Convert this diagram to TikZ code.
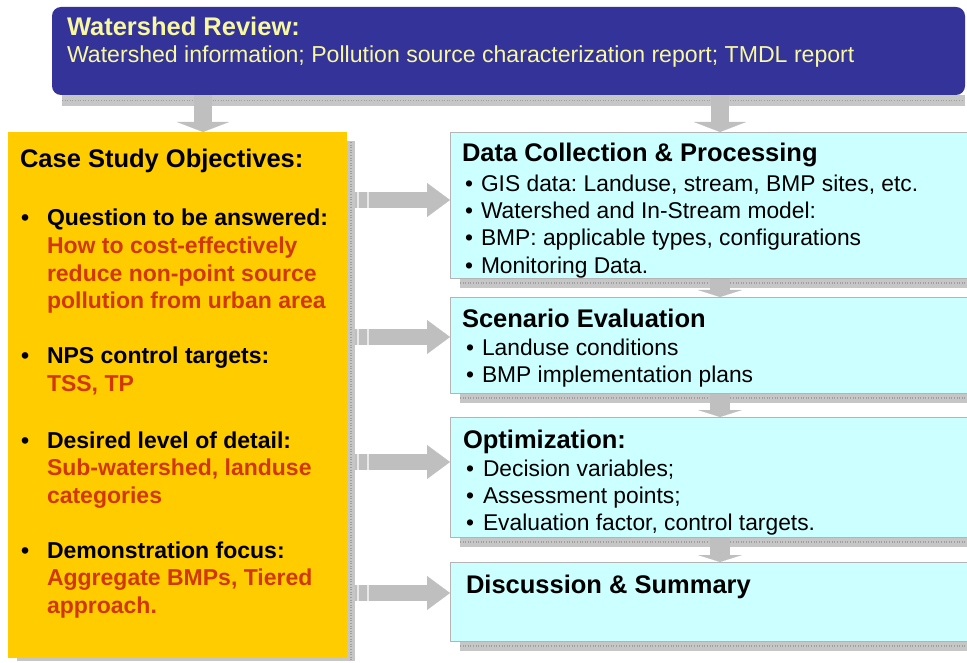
\documentclass[tikz,border=0pt]{standalone}
\usepackage{fontspec}
\setmainfont{Liberation Sans}
\usetikzlibrary{arrows.meta}
\definecolor{bannerblue}{HTML}{333399}
\definecolor{bannertext}{HTML}{F8F8A0}
\definecolor{objyellow}{HTML}{FFCC00}
\definecolor{objred}{HTML}{D03800}
\definecolor{stepcyan}{HTML}{CCFFFF}
\definecolor{arrowgray}{HTML}{BFBFBF}
\definecolor{shadowgray}{HTML}{C6C6C6}
\definecolor{edgegray}{HTML}{B4B4B4}
\pgfdeclarelayer{bg}
\pgfsetlayers{bg,main}
\frenchspacing
\begin{document}
\begin{tikzpicture}[x=1pt,y=-1pt,
  box/.style={rectangle, inner sep=0pt, outer sep=0pt, anchor=north west},
  stepbox/.style={box, fill=stepcyan, draw=edgegray, line width=0.8pt, minimum width=518pt},
  shade/.style={fill=shadowgray},
  shadetex/.style={draw=gray!75, line width=1.2pt, dash pattern=on 1pt off 1.6pt},
  txt/.style={anchor=base west, inner sep=0pt, outer sep=0pt},
  bigbold/.style={txt, font=\fontsize{25.5}{30}\selectfont\bfseries},
  bannersub/.style={txt, text=bannertext, font=\fontsize{23.1}{28}\selectfont},
  objitem/.style={txt, font=\fontsize{23}{27}\selectfont\bfseries},
  objnote/.style={objitem, text=objred},
  stepitem/.style={txt, font=\fontsize{22.8}{27}\selectfont},
  downarrow/.style={draw=arrowgray, line width=18pt,
    -{Triangle[width=52pt, length=10pt, line width=0.1pt, fill=arrowgray]}},
  steparrow/.style={draw=arrowgray, line width=20pt,
    -{Triangle[width=44pt, length=7pt, line width=0.1pt, fill=arrowgray]}},
  sidearrow/.style={draw=arrowgray, line width=16pt,
    -{Triangle[width=34pt, length=23pt, line width=0.1pt, fill=arrowgray]}},
  tailgap/.style={draw=white!65!arrowgray, line width=2pt}
]
\useasboundingbox (0,0) rectangle (967,663);

% ---- boxes ----
\node[box, fill=bannerblue, rounded corners=9pt,
      minimum width=913pt, minimum height=88pt] (banner) at (52,7) {};
\node[box, fill=objyellow, minimum width=339pt, minimum height=526pt] (objectives) at (8,132) {};
\node[stepbox, minimum height=146pt] (data) at (450,132) {};
\node[stepbox, minimum height=96pt] (scenario) at (450,297) {};
\node[stepbox, minimum height=120pt] (optim) at (450,417) {};
\node[stepbox, minimum height=79pt] (summary) at (450,562) {};

% rows of the side arrows and columns of the down arrows
\coordinate (r1) at (0,200);
\coordinate (r2) at (0,337);
\coordinate (r3) at (0,462);
\coordinate (r4) at (0,593);
\coordinate (c1) at (203,0);
\coordinate (c2) at (720,0);

\begin{pgfonlayer}{bg}
  % drop shadows
  \fill[shade] ([shift={(10pt,0)}]banner.south west) rectangle ([shift={(0,-11pt)}]banner.south east);
  \draw[shadetex] ([shift={(10pt,-5.5pt)}]banner.south west) -- ([shift={(-2pt,-5.5pt)}]banner.south east);
  \foreach \b in {data,scenario,optim,summary}{
    \fill[shade] ([shift={(10pt,0)}]\b.south west) rectangle ([shift={(0,-10pt)}]\b.south east);
    \draw[shadetex] ([shift={(10pt,-5pt)}]\b.south west) -- ([shift={(0,-5pt)}]\b.south east);
  }
  % down arrows
  \draw[downarrow] (banner.south -| c1) -- (objectives.north -| c1);
  \draw[downarrow] (banner.south -| c2) -- (data.north -| c2);
  \draw[steparrow] (data.south -| c2) -- (scenario.north -| c2);
  \draw[steparrow] (scenario.south -| c2) -- (optim.north -| c2);
  \draw[steparrow] (optim.south -| c2) -- (summary.north -| c2);
  % side arrows
  \draw[sidearrow] ([xshift=8pt]objectives.east |- r1) -- (data.west |- r1);
  \draw[sidearrow] ([xshift=8pt]objectives.east |- r2) -- (scenario.west |- r2);
  \draw[sidearrow] ([xshift=8pt]objectives.east |- r3) -- (optim.west |- r3);
  \draw[sidearrow] ([xshift=8pt]objectives.east |- r4) -- (summary.west |- r4);
  \foreach \r in {r1,r2,r3,r4}{
    \draw[tailgap] ([xshift=11pt]objectives.east |- \r) ++(0,-8) -- ++(0,16);
    \draw[tailgap] ([xshift=20.5pt]objectives.east |- \r) ++(0,-8) -- ++(0,16);
  }
  % shadow of the objectives panel
  \fill[shade] ([shift={(0,-9pt)}]objectives.north east) rectangle ([shift={(8pt,-3pt)}]objectives.south east);
  \fill[shade] ([shift={(9pt,0)}]objectives.south west) rectangle ([shift={(8pt,-3pt)}]objectives.south east);
  \draw[shadetex] ([shift={(4pt,-10pt)}]objectives.north east) -- ([shift={(4pt,-2pt)}]objectives.south east);
\end{pgfonlayer}

% ---- banner ----
\node[bigbold, text=bannertext] (bannertitle) at (67,36) {Watershed Review:};
\node[bannersub] (bannerline) at (67,63) {Watershed information; Pollution source characterization report; TMDL report};

% ---- case study objectives ----
\node[bigbold] (objtitle) at (20,168) {Case Study Objectives:};
\node[objitem] (ob1) at (21,226) {\textbullet};
\node[objitem] (oq) at (47,226) {Question to be answered:};
\node[objnote] (oq1) at (47,253.5) {How to cost-effectively};
\node[objnote] (oq2) at (47,281) {reduce non-point source};
\node[objnote] (oq3) at (47,308.5) {pollution from urban area};
\node[objitem] (ob2) at (21,363) {\textbullet};
\node[objitem] (ot) at (47,363) {NPS control targets:};
\node[objnote] (ot1) at (47,391) {TSS, TP};
\node[objitem] (ob3) at (21,448) {\textbullet};
\node[objitem] (od) at (47,448) {Desired level of detail:};
\node[objnote] (od1) at (47,475.5) {Sub-watershed, landuse};
\node[objnote] (od2) at (47,503) {categories};
\node[objitem] (ob4) at (21,558) {\textbullet};
\node[objitem] (of) at (47,558) {Demonstration focus:};
\node[objnote] (of1) at (47,585.5) {Aggregate BMPs, Tiered};
\node[objnote] (of2) at (47,613) {approach.};

% ---- process steps ----
\node[bigbold] (datatitle) at (462,162) {Data Collection \& Processing};
\node[stepitem] (db1) at (465,192) {\textbullet};
\node[stepitem] (d1) at (481,192) {GIS data: Landuse, stream, BMP sites, etc.};
\node[stepitem] (db2) at (465,219) {\textbullet};
\node[stepitem] (d2) at (481,219) {Watershed and In-Stream model:};
\node[stepitem] (db3) at (465,246) {\textbullet};
\node[stepitem] (d3) at (481,246) {BMP: applicable types, configurations};
\node[stepitem] (db4) at (465,273) {\textbullet};
\node[stepitem] (d4) at (481,273) {Monitoring Data.};

\node[bigbold] (scentitle) at (462,327) {Scenario Evaluation};
\node[stepitem] (sb1) at (466,355) {\textbullet};
\node[stepitem] (s1) at (482,355) {Landuse conditions};
\node[stepitem] (sb2) at (466,382) {\textbullet};
\node[stepitem] (s2) at (482,382) {BMP implementation plans};

\node[bigbold] (opttitle) at (463,448) {Optimization:};
\node[stepitem] (pb1) at (466,476) {\textbullet};
\node[stepitem] (p1) at (483,476) {Decision variables;};
\node[stepitem] (pb2) at (466,503) {\textbullet};
\node[stepitem] (p2) at (483,503) {Assessment points;};
\node[stepitem] (pb3) at (466,530) {\textbullet};
\node[stepitem] (p3) at (483,530) {Evaluation factor, control targets.};

\node[bigbold] (sumtitle) at (466,593) {Discussion \& Summary};
\end{tikzpicture}
\end{document}
